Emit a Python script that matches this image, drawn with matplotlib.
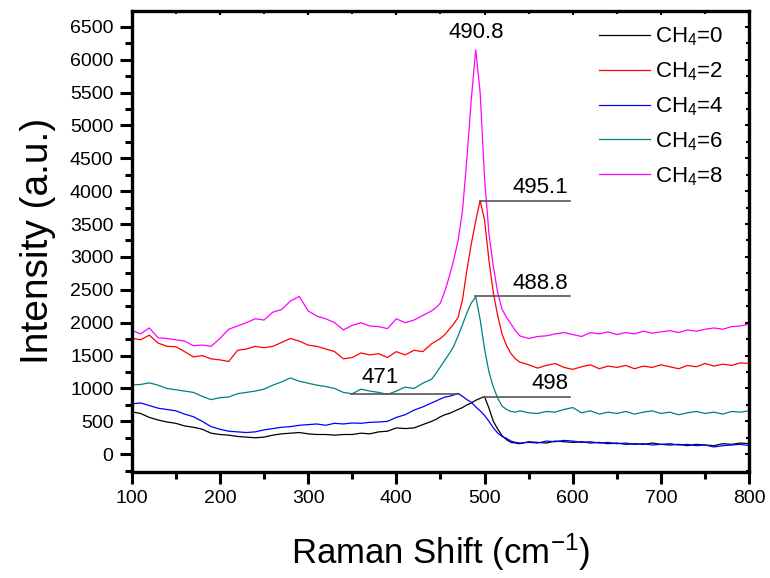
import matplotlib
matplotlib.use("Agg")
import matplotlib.pyplot as plt
from matplotlib.ticker import MultipleLocator

plt.rcParams['font.family'] = ['Liberation Sans', 'DejaVu Sans']
plt.rcParams['mathtext.default'] = 'regular'

# Raman shift grid (cm-1)
shift = ([100, 110, 120, 130, 140, 150, 160, 170, 180, 190, 200, 210, 220, 230, 240,
          250, 260, 270, 280, 290, 300, 310, 320, 330, 340, 350, 360, 370, 380, 390,
          400, 410, 420, 430, 440]
         + [445, 450, 455, 460, 465, 470, 475, 480, 485, 490, 495, 500, 505, 510, 515,
            520, 525, 530, 535, 540]
         + [550, 560, 570, 580, 590, 600, 610, 620, 630, 640, 650, 660, 670, 680, 690,
            700, 710, 720, 730, 740, 750, 760, 770, 780, 790, 800])

ch4_0 = ([645, 620, 560, 520, 490, 470, 430, 410, 380, 320, 300, 290, 270, 260, 250,
          260, 290, 310, 320, 330, 310, 300, 300, 290, 300, 300, 320, 310, 340, 350,
          400, 390, 400, 450, 500]
         + [530, 570, 600, 620, 650, 680, 710, 750, 780, 820, 850, 875, 700, 500, 380,
            280, 220, 180, 170, 160]
         + [190, 180, 170, 200, 190, 180, 190, 170, 180, 160, 170, 150, 160, 150, 170,
            150, 140, 150, 130, 150, 140, 130, 160, 150, 170, 160])

ch4_2 = ([1765, 1740, 1810, 1690, 1640, 1635, 1560, 1480, 1500, 1450, 1435, 1410, 1580,
          1600, 1640, 1620, 1640, 1700, 1760, 1720, 1660, 1640, 1600, 1560, 1450, 1470,
          1540, 1510, 1530, 1470, 1560, 1510, 1580, 1560, 1680]
         + [1720, 1760, 1820, 1900, 1980, 2080, 2350, 2800, 3200, 3550, 3855, 3560, 2950,
            2450, 2100, 1820, 1650, 1530, 1450, 1400]
         + [1360, 1310, 1350, 1380, 1320, 1290, 1330, 1360, 1300, 1340, 1320, 1350, 1300,
            1340, 1320, 1360, 1330, 1300, 1350, 1330, 1380, 1340, 1370, 1350, 1390, 1380])

ch4_4 = ([765, 780, 740, 700, 680, 660, 610, 570, 500, 420, 380, 350, 340, 330, 340,
          370, 390, 410, 420, 440, 450, 460, 440, 470, 460, 475, 470, 485, 490, 500,
          560, 600, 670, 720, 780]
         + [810, 840, 870, 880, 900, 925, 880, 830, 790, 720, 660, 590, 500, 400, 320,
            270, 240, 200, 180, 170]
         + [180, 170, 200, 190, 210, 200, 180, 190, 170, 180, 160, 170, 150, 160, 140,
            150, 160, 140, 150, 130, 140, 110, 130, 140, 150, 130])

ch4_6 = ([1055, 1060, 1085, 1050, 1000, 980, 960, 940, 880, 830, 860, 870, 920, 940, 960,
          990, 1050, 1100, 1160, 1110, 1080, 1050, 1030, 1000, 940, 920, 990, 960, 940,
          910, 960, 1020, 1000, 1080, 1140]
         + [1230, 1330, 1430, 1530, 1640, 1800, 1970, 2150, 2300, 2395, 2050, 1600, 1250,
            1020, 850, 730, 680, 650, 640, 660]
         + [630, 620, 650, 640, 680, 710, 630, 660, 610, 640, 620, 650, 610, 640, 660,
            620, 640, 600, 630, 650, 620, 640, 610, 650, 640, 660])

ch4_8 = ([1885, 1830, 1920, 1770, 1760, 1740, 1720, 1650, 1660, 1640, 1760, 1900, 1950,
          2000, 2060, 2040, 2160, 2200, 2330, 2400, 2180, 2100, 2060, 2000, 1890, 1960,
          2000, 1950, 1940, 1910, 2060, 2000, 2040, 2110, 2180]
         + [2230, 2300, 2480, 2700, 2950, 3250, 3700, 4500, 5400, 6150, 5500, 4200, 3350,
            2850, 2450, 2200, 2080, 1980, 1880, 1800]
         + [1760, 1790, 1800, 1830, 1850, 1820, 1790, 1850, 1830, 1860, 1820, 1850, 1830,
            1870, 1840, 1860, 1880, 1850, 1890, 1870, 1900, 1920, 1900, 1940, 1950, 1980])

series = [ch4_0, ch4_2, ch4_4, ch4_6, ch4_8]
labels = ['CH$_4$=0', 'CH$_4$=2', 'CH$_4$=4', 'CH$_4$=6', 'CH$_4$=8']
colors = ['black', 'red', 'blue', '#008080', 'magenta']

# peak labels: position, height, end of the leader line
peak_names = ['498', '495.1', '471', '488.8']
peak_pos = [498, 495.1, 471, 488.8]
peak_val = [875, 3855, 915, 2400]
line_end = [597, 597, 349, 597]
top_peak = ('490.8', 490.8, 6150)

fig = plt.figure(figsize=(7.7, 5.78), dpi=100)
ax = fig.add_axes([0.171, 0.184, 0.802, 0.797])

for y, lab, c in zip(series, labels, colors):
    ax.plot(shift, y, color=c, lw=0.9, label=lab)

for name, px, py, xe in zip(peak_names, peak_pos, peak_val, line_end):
    ax.plot([px, xe], [py, py], color='#555555', lw=1.2)
    if xe > px:
        ax.text(xe - 2, py + 40, name, ha='right', va='bottom', fontsize=16)
    else:
        ax.text(xe + 12, py + 90, name, ha='left', va='bottom', fontsize=16)
ax.text(top_peak[1], top_peak[2] + 110, top_peak[0], ha='center', va='bottom', fontsize=16)

ax.set_xlim(100, 800)
ax.set_ylim(-265, 6740)
ax.xaxis.set_major_locator(MultipleLocator(100))
ax.xaxis.set_minor_locator(MultipleLocator(50))
ax.yaxis.set_major_locator(MultipleLocator(500))
ax.yaxis.set_minor_locator(MultipleLocator(250))
ax.tick_params(which='major', direction='out', length=8.5, width=2.2, labelsize=14, pad=4.5)
ax.tick_params(which='minor', direction='out', length=4.7, width=2.2)
for s in ax.spines.values():
    s.set_linewidth(2.4)

# small inward ticks on the top and right edges
top = ax.secondary_xaxis('top')
right = ax.secondary_yaxis('right')
for sec in (top, right):
    sec.tick_params(which='both', direction='in', width=1.5, labelsize=0)
    sec.tick_params(which='major', length=3)
    sec.tick_params(which='minor', length=2)
top.xaxis.set_major_locator(MultipleLocator(100))
top.xaxis.set_minor_locator(MultipleLocator(50))
right.yaxis.set_major_locator(MultipleLocator(500))
right.yaxis.set_minor_locator(MultipleLocator(250))
top.set_xticklabels([])
right.set_yticklabels([])

ax.set_xlabel('Raman Shift (cm$^{-1}$)', fontsize=25, labelpad=18)
ax.set_ylabel('Intensity (a.u.)', fontsize=28, labelpad=10)

ax.legend(loc='upper left', bbox_to_anchor=(0.756, 0.968), frameon=False,
          fontsize=16, handlelength=2.3, handletextpad=0.25, labelspacing=0.55,
          borderpad=0, borderaxespad=0)

plt.savefig('out.png')
